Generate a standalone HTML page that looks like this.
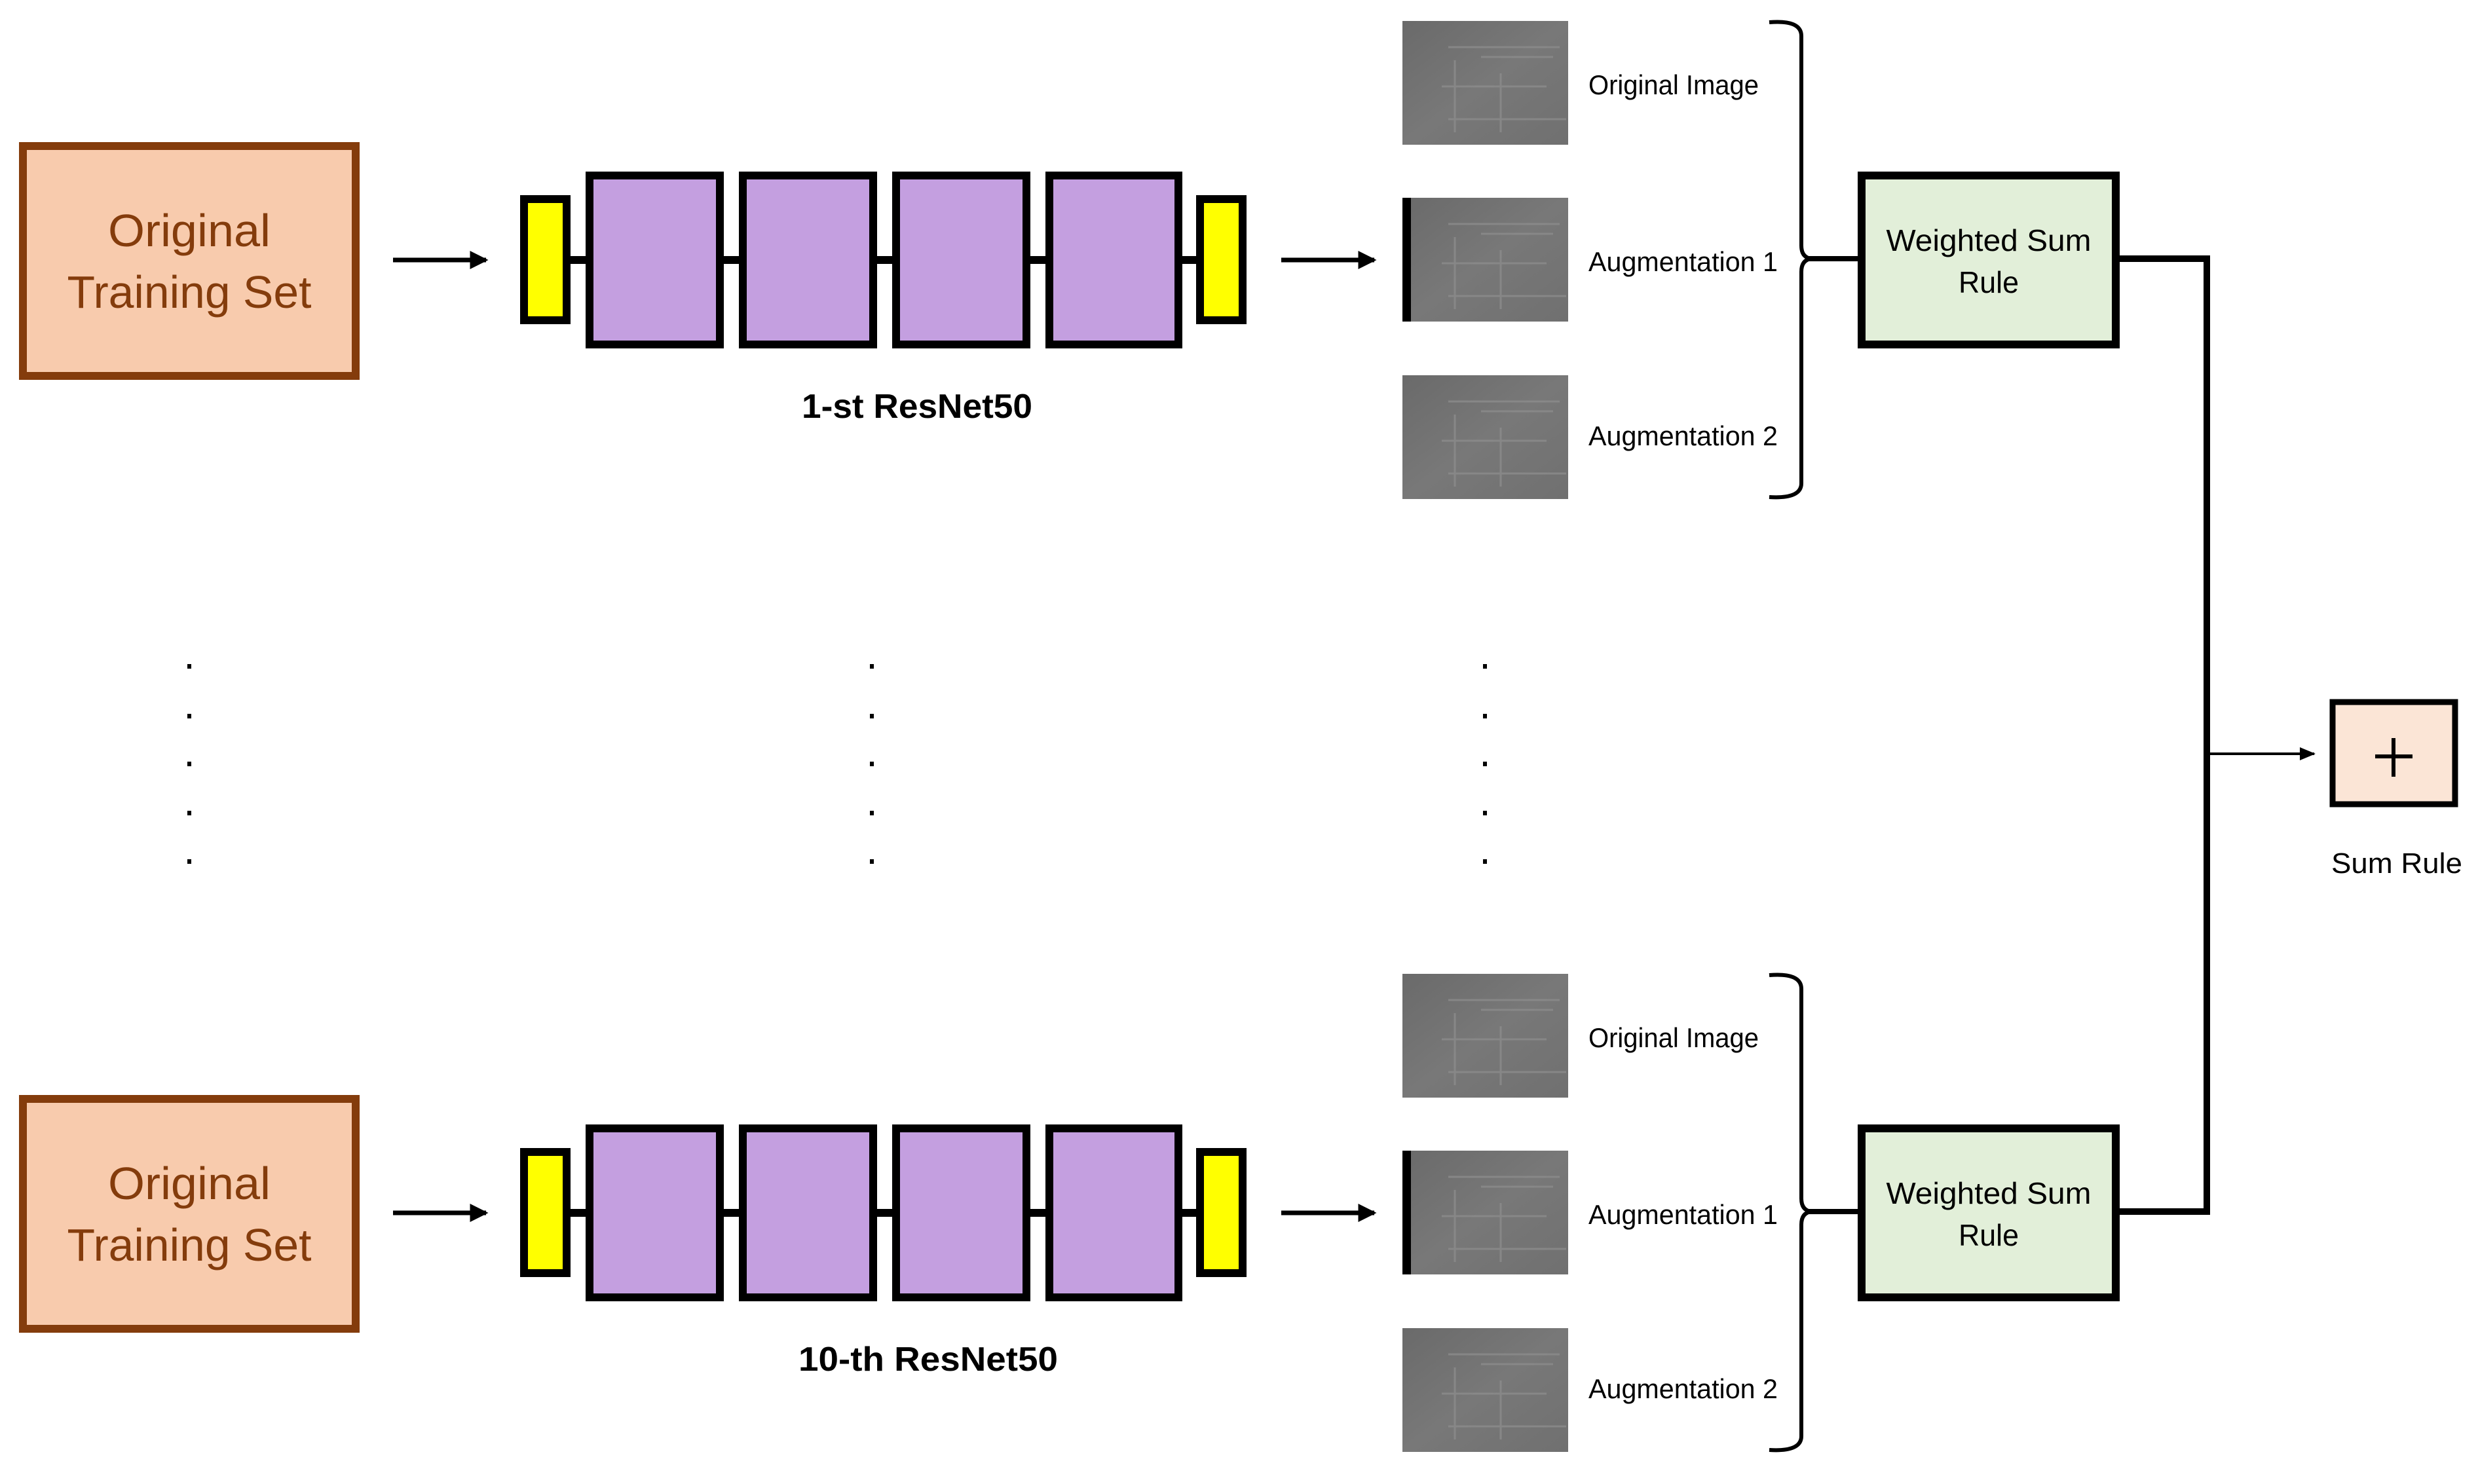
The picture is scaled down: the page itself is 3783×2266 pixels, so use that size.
<!DOCTYPE html>
<html><head><meta charset="utf-8"><style>html,body{margin:0;padding:0;background:#fff}svg{display:block}</style></head>
<body>
<svg xmlns="http://www.w3.org/2000/svg" width="3783" height="2266" viewBox="0 0 3783 2266" font-family="Liberation Sans, sans-serif">
<defs>
<marker id="ah" markerWidth="4" markerHeight="4" refX="3.5" refY="2" orient="auto" markerUnits="strokeWidth"><path d="M0,0 L4,2 L0,4 z" fill="#000"/></marker>
<marker id="ah2" markerWidth="6" markerHeight="6" refX="5.5" refY="3" orient="auto" markerUnits="strokeWidth"><path d="M0,0.5 L6,3 L0,5.5 z" fill="#000"/></marker>
<linearGradient id="img" x1="0" y1="0" x2="1" y2="1"><stop offset="0" stop-color="#6a6a6a"/><stop offset="0.5" stop-color="#787878"/><stop offset="1" stop-color="#707070"/></linearGradient>
<g id="pic">
<rect x="0" y="0" width="253" height="189" fill="url(#img)"/>
<g stroke="#8c8c8c" stroke-width="3" fill="none" opacity="0.8">
<line x1="70" y1="40" x2="240" y2="40"/><line x1="120" y1="55" x2="230" y2="55"/>
<line x1="60" y1="100" x2="220" y2="100"/><line x1="70" y1="150" x2="250" y2="150"/>
<line x1="80" y1="60" x2="80" y2="170"/><line x1="150" y1="80" x2="150" y2="170"/>
</g>
</g>
<g id="row">
<rect x="35" y="223" width="508" height="351" fill="#f8cbad" stroke="#843c0c" stroke-width="12"/>
<text x="289" y="376" font-size="70" fill="#843c0c" text-anchor="middle" textLength="248" lengthAdjust="spacingAndGlyphs">Original</text>
<text x="289" y="470" font-size="70" fill="#843c0c" text-anchor="middle" textLength="373" lengthAdjust="spacingAndGlyphs">Training Set</text>
<line x1="600" y1="397" x2="742" y2="397" stroke="#000" stroke-width="7" marker-end="url(#ah)"/>
<line x1="860" y1="397" x2="1840" y2="397" stroke="#000" stroke-width="12"/>
<rect x="800" y="304" width="65" height="185" fill="#ffff00" stroke="#000" stroke-width="12"/>
<rect x="1832" y="304" width="65" height="185" fill="#ffff00" stroke="#000" stroke-width="12"/>
<rect x="900" y="268" width="199" height="258" fill="#c49fe0" stroke="#000" stroke-width="12"/>
<rect x="1134" y="268" width="199" height="258" fill="#c49fe0" stroke="#000" stroke-width="12"/>
<rect x="1368" y="268" width="199" height="258" fill="#c49fe0" stroke="#000" stroke-width="12"/>
<rect x="1602" y="268" width="197" height="258" fill="#c49fe0" stroke="#000" stroke-width="12"/>
<line x1="1956" y1="397" x2="2098" y2="397" stroke="#000" stroke-width="7" marker-end="url(#ah)"/>
<use href="#pic" x="2141" y="32"/>
<use href="#pic" x="2141" y="302"/>
<rect x="2141" y="302" width="13" height="189" fill="#000"/>
<use href="#pic" x="2141" y="573"/>
<text x="2425" y="144" font-size="42" fill="#000" textLength="260" lengthAdjust="spacingAndGlyphs">Original Image</text>
<text x="2425" y="414" font-size="42" fill="#000" textLength="289" lengthAdjust="spacingAndGlyphs">Augmentation 1</text>
<text x="2425" y="680" font-size="42" fill="#000" textLength="289" lengthAdjust="spacingAndGlyphs">Augmentation 2</text>
<path d="M2701,34 Q2750,30 2750,55 L2750,375 Q2750,393 2765,395 Q2750,397 2750,415 L2750,738 Q2750,762 2701,759" fill="none" stroke="#000" stroke-width="6"/>
<line x1="2760" y1="395" x2="2836" y2="395" stroke="#000" stroke-width="8"/>
<rect x="2842" y="268" width="388" height="258" fill="#e2efd9" stroke="#000" stroke-width="12"/>
<text x="3036" y="383" font-size="46" fill="#000" text-anchor="middle" textLength="313" lengthAdjust="spacingAndGlyphs">Weighted Sum</text>
<text x="3036" y="447" font-size="46" fill="#000" text-anchor="middle" textLength="92" lengthAdjust="spacingAndGlyphs">Rule</text>
<line x1="3236" y1="395" x2="3374" y2="395" stroke="#000" stroke-width="10"/>
</g>
</defs>
<use href="#row"/>
<use href="#row" y="1455"/>
<text x="1400" y="638" font-size="52" font-weight="bold" fill="#000" text-anchor="middle" textLength="352" lengthAdjust="spacingAndGlyphs">1-st ResNet50</text>
<text x="1417" y="2093" font-size="52" font-weight="bold" fill="#000" text-anchor="middle" textLength="396" lengthAdjust="spacingAndGlyphs">10-th ResNet50</text>
<line x1="3369" y1="390" x2="3369" y2="1855" stroke="#000" stroke-width="10"/>
<line x1="3374" y1="1151" x2="3533" y2="1151" stroke="#000" stroke-width="4" marker-end="url(#ah2)"/>
<rect x="3561" y="1072" width="187" height="156" fill="#fbe5d6" stroke="#000" stroke-width="9"/>
<line x1="3626" y1="1155" x2="3683" y2="1155" stroke="#000" stroke-width="6"/>
<line x1="3654" y1="1127" x2="3654" y2="1186" stroke="#000" stroke-width="6"/>
<text x="3559" y="1333" font-size="44" fill="#000" textLength="200" lengthAdjust="spacingAndGlyphs">Sum Rule</text>
<g fill="#000">
<rect x="286" y="1014" width="6" height="7"/><rect x="286" y="1090" width="6" height="7"/><rect x="286" y="1163" width="6" height="7"/><rect x="286" y="1238" width="6" height="7"/><rect x="286" y="1312" width="6" height="7"/>
<rect x="1328" y="1014" width="6" height="7"/><rect x="1328" y="1090" width="6" height="7"/><rect x="1328" y="1163" width="6" height="7"/><rect x="1328" y="1238" width="6" height="7"/><rect x="1328" y="1312" width="6" height="7"/>
<rect x="2264" y="1014" width="6" height="7"/><rect x="2264" y="1090" width="6" height="7"/><rect x="2264" y="1163" width="6" height="7"/><rect x="2264" y="1238" width="6" height="7"/><rect x="2264" y="1312" width="6" height="7"/>
</g>
</svg>
</body></html>
